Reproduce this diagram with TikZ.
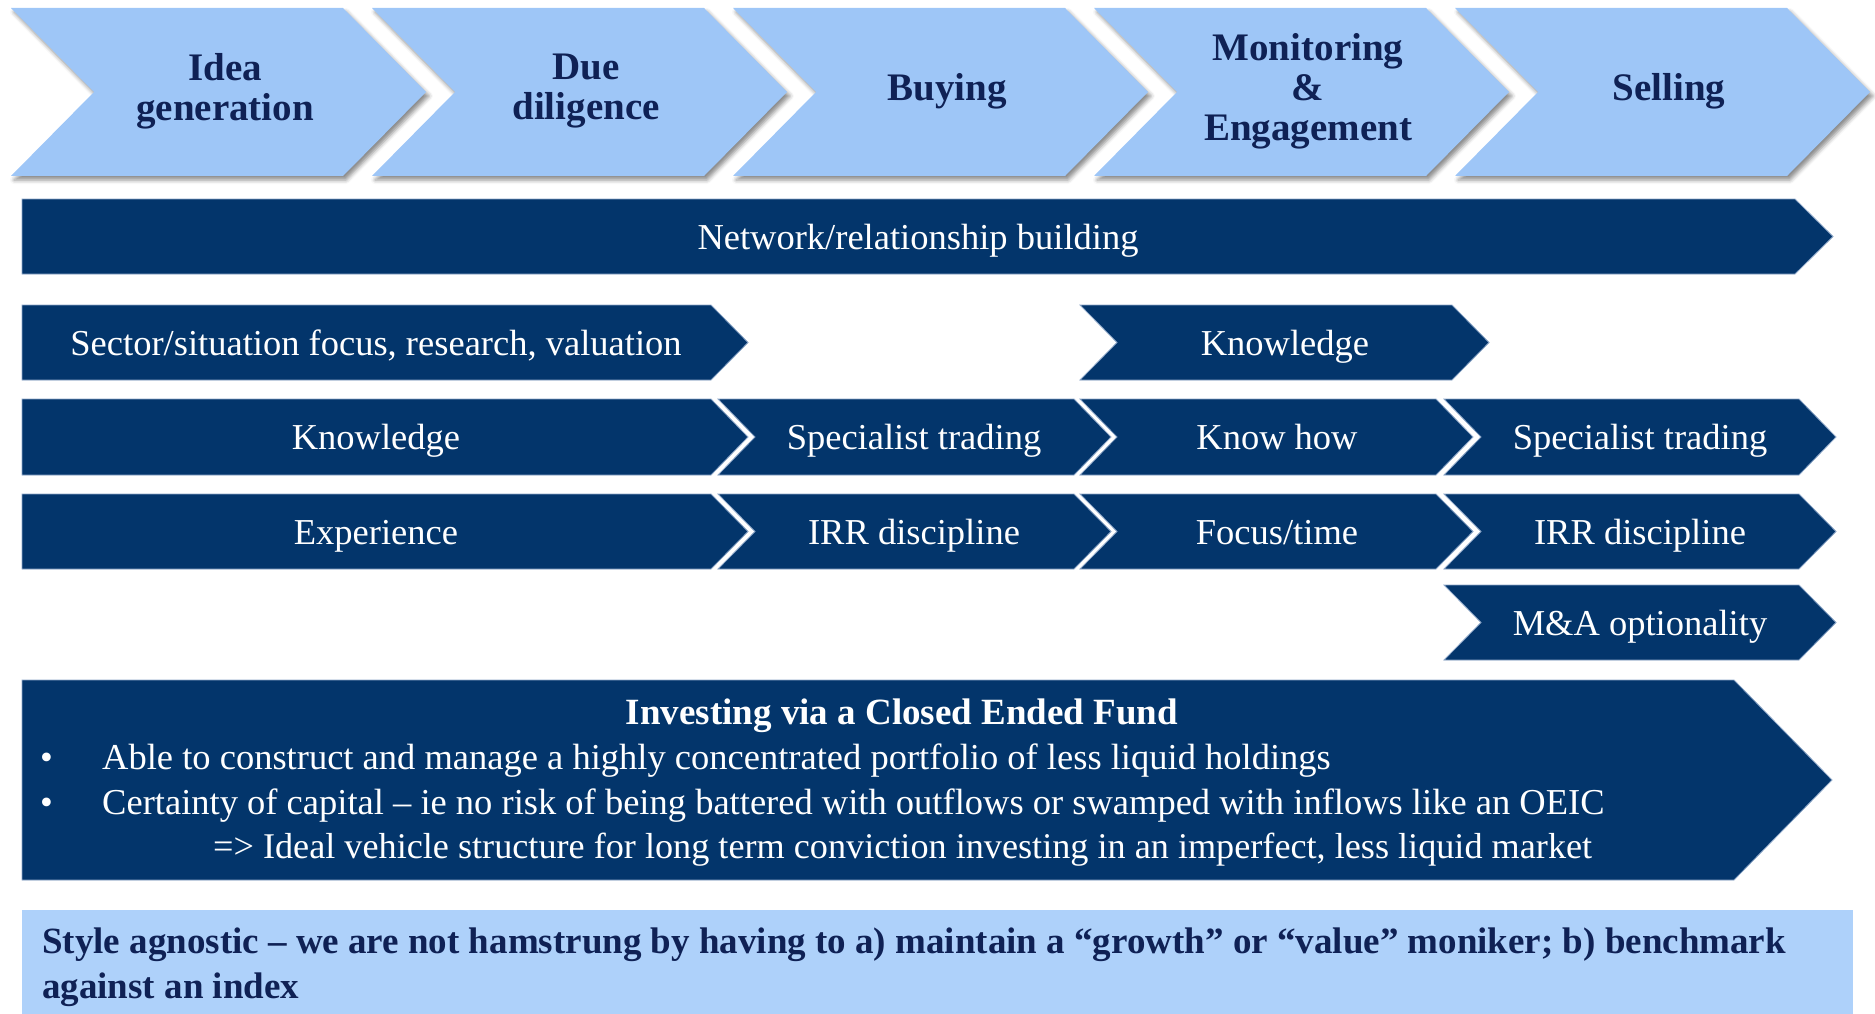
\documentclass[tikz,border=0pt]{standalone}
\usepackage{fontspec}
\setmainfont{Liberation Serif}
\usetikzlibrary{shadows.blur}

\definecolor{navy}{HTML}{03356B}
\definecolor{stage}{HTML}{9EC6F7}
\definecolor{stagetext}{HTML}{0F2155}
\definecolor{note}{HTML}{AED1FA}
\definecolor{edgeline}{HTML}{8BA5C7}

% chevron: style, left x, right x (start of point), top y, bottom y, point depth, notch depth
\newcommand{\chevshape}[7]{%
  \path[#1] (#2,#4) -- (#3,#4) -- ({#3+#6},{(#4+#5)/2}) -- (#3,#5) -- (#2,#5)
    -- ({#2+#7},{(#4+#5)/2}) -- cycle;}

\begin{document}
\begin{tikzpicture}[x=1pt,y=-1pt,
  stagebox/.style={fill=stage,
    blur shadow={shadow xshift=3pt,shadow yshift=-4pt,shadow blur radius=4pt,shadow opacity=45}},
  barbox/.style={fill=navy,draw=edgeline,line width=0.8pt},
  stagetxt/.style={text=stagetext,align=center,inner sep=0pt,anchor=center,
    font=\fontsize{39}{40}\selectfont\bfseries},
  bartxt/.style={text=white,inner sep=0pt,anchor=base,font=\fontsize{36.5}{40}\selectfont},
  fundtxt/.style={text=white,inner sep=0pt,anchor=base west,font=\fontsize{36.5}{40}\selectfont},
  notetxt/.style={text=stagetext,inner sep=0pt,anchor=base west,font=\fontsize{37}{44}\selectfont\bfseries}
]
\useasboundingbox (0,0) rectangle (1875,1014);

% process stages
\chevshape{stagebox}{11}{343}{8}{176}{83}{83}
\chevshape{stagebox}{372}{704}{8}{176}{83}{83}
\chevshape{stagebox}{733}{1065}{8}{176}{83}{83}
\chevshape{stagebox}{1094}{1426}{8}{176}{83}{83}
\chevshape{stagebox}{1455}{1787}{8}{176}{83}{83}
\node[stagetxt] (sIdea) at (225,91) {Idea\\generation};
\node[stagetxt] (sDue) at (586,91) {Due\\diligence};
\node[stagetxt] (sBuy) at (947,91) {Buying};
\node[stagetxt] (sMon) at (1308,91) {Monitoring\\\&\\Engagement};
\node[stagetxt] (sSell) at (1669,91) {Selling};

% network bar
\chevshape{barbox}{22}{1795}{199}{274}{38}{0}
\node[bartxt] (tNet) at (918,249) {Network/relationship building};

% row 2
\chevshape{barbox}{22}{711}{305}{380}{37}{0}
\chevshape{barbox}{1080}{1452}{305}{380}{37}{37}
\node[bartxt] (tSector) at (376,355) {Sector/situation focus, research, valuation};
\node[bartxt] (tKnowA) at (1285,355) {Knowledge};

% row 3
\chevshape{barbox}{22}{711}{399}{475}{37}{0}
\chevshape{barbox}{718}{1074}{399}{475}{37}{37}
\chevshape{barbox}{1080}{1436}{399}{475}{37}{37}
\chevshape{barbox}{1444}{1799}{399}{475}{37}{37}
\node[bartxt] (tKnowB) at (376,449) {Knowledge};
\node[bartxt] (tSpecA) at (914,449) {Specialist trading};
\node[bartxt] (tHow) at (1277,449) {Know how};
\node[bartxt] (tSpecB) at (1640,449) {Specialist trading};

% row 4
\chevshape{barbox}{22}{711}{494}{569}{37}{0}
\chevshape{barbox}{718}{1074}{494}{569}{37}{37}
\chevshape{barbox}{1080}{1436}{494}{569}{37}{37}
\chevshape{barbox}{1444}{1799}{494}{569}{37}{37}
\node[bartxt] (tExp) at (376,544) {Experience};
\node[bartxt] (tIrrA) at (914,544) {IRR discipline};
\node[bartxt] (tFocus) at (1277,544) {Focus/time};
\node[bartxt] (tIrrB) at (1640,544) {IRR discipline};

% row 5
\chevshape{barbox}{1444}{1799}{585}{660}{37}{37}
\node[bartxt] (tMA) at (1640,635) {M\&A optionality};

% fund box
\chevshape{barbox}{22}{1734}{680}{880}{98}{0}
\node[bartxt,font=\fontsize{37}{40}\selectfont\bfseries] (fTitle) at (902,724) {Investing via a Closed Ended Fund};
\node[fundtxt] (fB1) at (40,769) {•};
\node[fundtxt] (fL1) at (102,769) {Able to construct and manage a highly concentrated portfolio of less liquid holdings};
\node[fundtxt] (fB2) at (40,814) {•};
\node[fundtxt] (fL2) at (102,814) {Certainty of capital – ie no risk of being battered with outflows or swamped with inflows like an OEIC};
\node[fundtxt,font=\fontsize{36.2}{40}\selectfont] (fL3) at (213,858) {=> Ideal vehicle structure for long term conviction investing in an imperfect, less liquid market};

% style note
\fill[note] (22,910) rectangle (1853,1014);
\node[notetxt] (nL1) at (42,953) {Style agnostic – we are not hamstrung by having to a) maintain a “growth” or “value” moniker; b) benchmark};
\node[notetxt] (nL2) at (42,998) {against an index};
\end{tikzpicture}
\end{document}
